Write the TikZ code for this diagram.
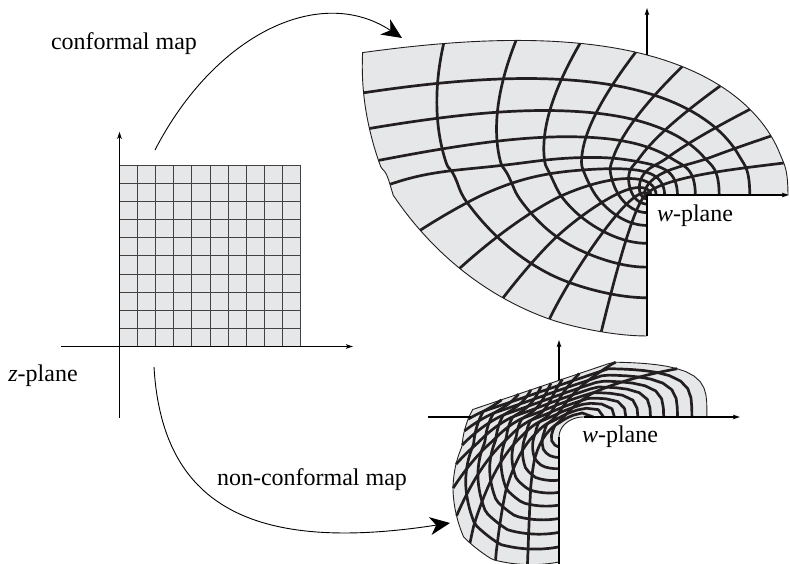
\documentclass[tikz,border=0pt]{standalone}
\usepackage{fontspec}
\setmainfont{Liberation Serif}
\usetikzlibrary{arrows.meta}

\definecolor{sheet}{RGB}{230,231,232}
\definecolor{ink}{RGB}{35,31,32}

\tikzset{
  axis/.style={line width=1.5pt, -{Stealth[length=7pt,width=4.5pt,inset=1.5pt]}},
  mapto/.style={line width=0.9pt, -{Stealth[length=20pt,width=18pt,inset=6pt]}},
  zgrid/.style={draw=ink!85, line width=1pt},
  wgrid/.style={draw=ink, line width=2.7pt, line join=round},
  rim/.style={draw=ink, line width=0.9pt},
  lbl/.style={font=\fontsize{24}{28}\selectfont, inner sep=0pt},
}

\begin{document}
\begin{tikzpicture}[x=1pt, y=1pt,
  declare function={
    sst(\w)=\w*\w*(3-2*\w);
    cl(\w)=min(1,max(0,\w));
    % conformal: w = z^3, squeezed a little
    cu(\x,\y)=\x*\x*\x-3*\x*\y*\y;
    cv(\x,\y)=3*\x*\x*\y-\y*\y*\y;
    cwu(\x,\y)=cu(\x,\y)*(1+0.17*exp(-1.5*max(cv(\x,\y),0))*sst(cl(-cu(\x,\y)/0.6)));
    cwv(\x,\y)=cv(\x,\y)*(1-(0.355-0.07*cu(\x,\y))*sst(cl(cv(\x,\y)/0.4)));
    % non-conformal: bent angle, radius taken from the outline
    nh(\w)=ifthenelse(\w<135,\w*1.2963,175+(\w-135)*0.7037);
    nang(\x,\y)=nh(3*atan2(\y,\x));
    qf(\w)=\w*\w*\w*\w;
    sel(\w)=1/sqrt(sqrt(qf(cos(\w)/1.02)+qf(sin(\w)/0.38)));
    lin(\w)=0.2393/max(0.01,sin(\w-18.65));
    rbl(\w)=ifthenelse(\w<197,0.597+0.103*(\w-175)/22,
            ifthenelse(\w<214.5,0.70+0.187*(\w-197)/17.5,
            ifthenelse(\w<231.5,0.887+0.17*(\w-214.5)/17,
            ifthenelse(\w<245,1.057+0.028*(\w-231.5)/13.5,
            1.085-0.085*(\w-245)/25))));
    rb(\w)=ifthenelse(\w<175,min(sel(\w),lin(\w)),rbl(\w));
    nr(\x,\y)=rb(nang(\x,\y))*max(\x,\y)*(0.8+0.2*max(\x,\y));
    nu(\x,\y)=nr(\x,\y)*cos(nang(\x,\y))+(1-max(\x,\y))*0.17*(1-sin(nang(\x,\y)/3));
    nv(\x,\y)=nr(\x,\y)*sin(nang(\x,\y))-(1-max(\x,\y))*0.14*(1-cos(nang(\x,\y)/3));
  }]
  \useasboundingbox (0,0) rectangle (790,564);

  % z-plane: square grid
  \begin{scope}[shift={(119.5pt,217.5pt)}, x=18.1pt, y=18.1pt]
    \fill[sheet] (0,0) rectangle (10,10);
    \foreach \i in {0,...,10} {
      \draw[zgrid] (\i,0) -- (\i,10);
      \draw[zgrid] (0,\i) -- (10,\i);
    }
  \end{scope}
  % z-plane axes
  \draw[axis] (61,217.5) -- (353,217.5);
  \draw[axis] (119.5,146) -- (119.5,432.3);

  % conformal image
  \begin{scope}[shift={(647pt,369pt)}, x=141pt, y=141pt]
    \fill[sheet] (0,0) -- plot[variable=\t, domain=0:1, samples=60] ({cwu(1,\t)},{cwv(1,\t)})
      -- plot[variable=\t, domain=1:0, samples=60] ({cwu(\t,1)},{cwv(\t,1)}) -- cycle;
    \foreach \c in {0.1,0.2,...,0.9} {
      \draw[wgrid] plot[variable=\t, domain=0:1, samples=50, smooth] ({cwu(\c,\t)},{cwv(\c,\t)});
      \draw[wgrid] plot[variable=\t, domain=0:1, samples=50, smooth] ({cwu(\t,\c)},{cwv(\t,\c)});
    }
    \draw[rim] plot[variable=\t, domain=0:1, samples=60] ({cwu(1,\t)},{cwv(1,\t)})
      -- plot[variable=\t, domain=1:0, samples=60] ({cwu(\t,1)},{cwv(\t,1)});
    % axes
    \draw[line width=1.5pt] (0,-1) -- (0,0);
    \draw[axis] (0,0.993) -- (0,1.326);
    \draw[axis] (0,0) -- (1.007,0);
  \end{scope}

  % non-conformal image
  \begin{scope}[shift={(559pt,147pt)}, x=145pt, y=145pt]
    \fill[sheet] (0,-1) -- (0,-0.14)
      -- plot[variable=\t, domain=270:0, samples=20] ({0.17*(1-sin(\t/3))},{-0.14*(1-cos(\t/3))})
      -- plot[variable=\t, domain=0:1, samples=80] ({nu(1,\t)},{nv(1,\t)})
      -- plot[variable=\t, domain=1:0, samples=80] ({nu(\t,1)},{nv(\t,1)}) -- cycle;
    \foreach \c in {0.1,0.2,...,0.9} {
      \draw[wgrid] plot[variable=\t, domain=0:1, samples=60] ({nu(\c,\t)},{nv(\c,\t)});
      \draw[wgrid] plot[variable=\t, domain=0:1, samples=60] ({nu(\t,\c)},{nv(\t,\c)});
    }
    \draw[rim] plot[variable=\t, domain=270:0, samples=20] ({0.17*(1-sin(\t/3))},{-0.14*(1-cos(\t/3))})
      -- plot[variable=\t, domain=0:1, samples=80] ({nu(1,\t)},{nv(1,\t)})
      -- plot[variable=\t, domain=1:0, samples=80] ({nu(\t,1)},{nv(\t,1)});
    % axes
    \draw[line width=1.5pt] (-0.903,0) -- (-0.61,0);
    \draw[axis] (0.17,0) -- (1.248,0);
    \draw[line width=1.5pt] (0,-1.02) -- (0,-0.14);
    \draw[axis] (0,0.2525) -- (0,0.531);
  \end{scope}

  % labels
  \node[lbl, anchor=base] (conf) at (124,514) {conformal map};
  \node[lbl, anchor=base] (nonconf) at (312,78) {non-conformal map};
  \node[lbl, anchor=base] (zlab) at (43,182) {\textit{z}-plane};
  \node[lbl, anchor=base] (wlabup) at (695,342) {\textit{w}-plane};
  \node[lbl, anchor=base] (wlabdn) at (620,121) {\textit{w}-plane};

  % the two maps
  \coordinate (zfrom1) at (155,414);
  \coordinate (wto1) at (402,526);
  \coordinate (zfrom2) at (154,197);
  \coordinate (wto2) at (450,41);
  \draw[mapto] (zfrom1) .. controls (215,530) and (320,580) .. (wto1);
  \draw[mapto] (zfrom2) .. controls (162,60) and (250,10) .. (wto2);
\end{tikzpicture}
\end{document}
